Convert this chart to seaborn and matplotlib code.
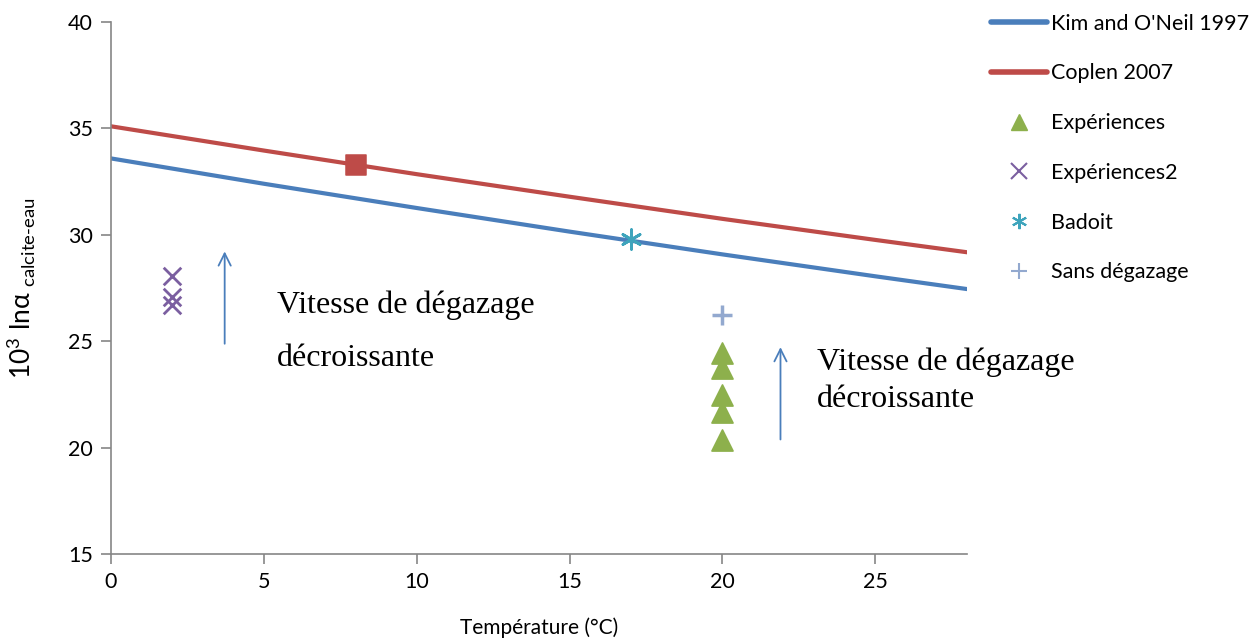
import numpy as np
import pandas as pd
import seaborn as sns
import matplotlib.pyplot as plt
from matplotlib.lines import Line2D

# calibration lines
temp_line = [0, 5, 10, 15, 20, 25, 28]
kim_oneil = [33.59, 32.40, 31.26, 30.15, 29.08, 28.05, 27.45]
coplen = [35.10, 33.96, 32.85, 31.79, 30.75, 29.76, 29.18]

# measured points
coplen_pt_x = [8]
coplen_pt_y = [33.3]
exp_x = [20, 20, 20, 20, 20]
exp_y = [24.45, 23.75, 22.45, 21.65, 20.35]
exp2_x = [2, 2, 2]
exp2_y = [28.05, 27.1, 26.7]
badoit_x = [17]
badoit_y = [29.8]
sans_x = [20]
sans_y = [26.25]

c_blue = '#4A7EBB'
c_red = '#BE4B48'
c_green = '#8DB04C'
c_purple = '#7B5FA0'
c_teal = '#3EA4BC'
c_light = '#93A9CF'
c_axis = '#868686'

sns.set_style('white')
plt.rcParams['font.family'] = ['Lato', 'DejaVu Sans']
plt.rcParams['mathtext.fontset'] = 'custom'
plt.rcParams['mathtext.rm'] = 'Lato'
plt.rcParams['text.color'] = 'black'
plt.rcParams['axes.labelcolor'] = 'black'
plt.rcParams['xtick.labelcolor'] = 'black'
plt.rcParams['ytick.labelcolor'] = 'black'

fig = plt.figure(figsize=(12.55, 6.44), dpi=100)
ax = fig.add_axes([0.0884, 0.1398, 0.6821, 0.826])

lines = pd.DataFrame({'T': temp_line, 'kim': kim_oneil, 'cop': coplen})
sns.lineplot(data=lines, x='T', y='kim', color=c_blue, lw=3, ax=ax)
sns.lineplot(data=lines, x='T', y='cop', color=c_red, lw=3, ax=ax)

sns.scatterplot(x=coplen_pt_x, y=coplen_pt_y, marker='s', s=190, color=c_red,
                edgecolor=c_red, ax=ax, zorder=5)
sns.scatterplot(x=exp_x, y=exp_y, marker='^', s=230, color=c_green,
                edgecolor=c_green, ax=ax, zorder=5)
sns.scatterplot(x=exp2_x, y=exp2_y, marker='x', s=160, color=c_purple,
                linewidth=2, ax=ax, zorder=5)
sns.scatterplot(x=badoit_x, y=badoit_y, marker=(6, 2, 0), s=200, color=c_teal,
                linewidth=2, ax=ax, zorder=5)
sns.scatterplot(x=sans_x, y=sans_y, marker='+', s=220, color=c_light,
                linewidth=2.5, ax=ax, zorder=5)

# arrows and annotations
arrow = dict(arrowstyle='->', color=c_blue, lw=1.3, mutation_scale=22)
ax.annotate('', xy=(3.72, 29.35), xytext=(3.72, 24.75), arrowprops=arrow)
ax.annotate('', xy=(21.9, 24.85), xytext=(21.9, 20.25), arrowprops=arrow)

serif = dict(family='Liberation Serif', fontsize=23, va='center', ha='left',
             color='black')
ax.text(5.42, 26.7, 'Vitesse de dégazage', **serif)
ax.text(5.42, 24.2, 'décroissante', **serif)
ax.text(23.1, 24.02, 'Vitesse de dégazage', **serif)
ax.text(23.1, 22.24, 'décroissante', **serif)

ax.set_xlim(0, 28)
ax.set_ylim(15, 40)
ax.set_xticks([0, 5, 10, 15, 20, 25])
ax.set_yticks([15, 20, 25, 30, 35, 40])
ax.tick_params(labelsize=15.5, length=7, width=1.2, color=c_axis, direction='out',
               left=True, bottom=True, pad=6)
for side in ['top', 'right']:
    ax.spines[side].set_visible(False)
for side in ['left', 'bottom']:
    ax.spines[side].set_color(c_axis)
    ax.spines[side].set_linewidth(1.2)

ax.set_xlabel('Température (°C)', fontsize=15, labelpad=18)
ax.set_ylabel(r'10$^{\mathregular{3}}$ lnα $_{\mathregular{calcite\text{-}eau}}$',
              fontsize=19, labelpad=22)

handles = [
    Line2D([], [], color=c_blue, lw=4, solid_capstyle='round'),
    Line2D([], [], color=c_red, lw=4, solid_capstyle='round'),
    Line2D([], [], color=c_green, marker='^', ls='none', ms=12),
    Line2D([], [], color=c_purple, marker='x', ls='none', ms=11, mew=1.5),
    Line2D([], [], color=c_teal, marker=(6, 2, 0), ls='none', ms=11, mew=1.5),
    Line2D([], [], color=c_light, marker='+', ls='none', ms=12, mew=1.5),
]
labels = ['Kim and O\'Neil 1997', 'Coplen 2007', 'Expériences', 'Expériences2',
          'Badoit', 'Sans dégazage']
fig.legend(handles, labels, loc='upper left', bbox_to_anchor=(0.778, 1.002),
           frameon=False, fontsize=15.5, labelspacing=1.38, handlelength=2.6,
           handletextpad=0.15, borderaxespad=0.3)

fig.savefig('out.png', dpi=100)
